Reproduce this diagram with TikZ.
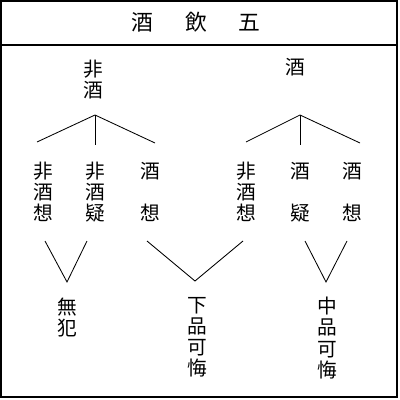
\documentclass[tikz,border=0pt]{standalone}
\usepackage{fontspec}
\newfontfamily\cjk{Noto Sans CJK JP}
\usetikzlibrary{positioning}

\begin{document}
\begin{tikzpicture}[x=0.025cm,y=-0.025cm,
  every node/.style={font=\cjk\fontsize{14}{15}\selectfont},
  col/.style={align=center,inner sep=0pt,anchor=north},
  frame/.style={line width=0.8pt},
  ln/.style={line width=0.6pt}]
\useasboundingbox (0,0) rectangle (400,400);
\draw[frame] (1,1) rectangle (397,397);
\draw[frame] (1,45) -- (397,45);
\node[font=\cjk\fontsize{15.5}{18}\selectfont] (title) at (196,22) {酒\hspace{1.45em}飲\hspace{1.45em}五};
% two roots
\node[col] (rootA) at (93,60) {非\\酒};
\node[col] (rootB) at (295,58) {酒};
\coordinate (apA) at (95,115);
\coordinate (a1) at (37,142);
\coordinate (a2) at (95,145);
\coordinate (a3) at (155,143);
\coordinate (apB) at (300,115);
\coordinate (b1) at (246,142);
\coordinate (b2) at (300,145);
\coordinate (b3) at (360,143);
\draw[ln] (a1) -- (apA) -- (a3); \draw[ln] (apA) -- (a2);
\draw[ln] (b1) -- (apB) -- (b3); \draw[ln] (apB) -- (b2);
% six branches
\node[col] (nA1) at (43,162) {非\\酒\\想};
\node[col] (nA2) at (95,162) {非\\酒\\疑};
\node[col] (nA3) at (150,162) {酒\\[15pt]想};
\node[col] (nB1) at (246,162) {非\\酒\\想};
\node[col] (nB2) at (300,162) {酒\\[15pt]疑};
\node[col] (nB3) at (352,162) {酒\\[15pt]想};
% three outcomes
\coordinate (v1l) at (45,241); \coordinate (v1b) at (67,282); \coordinate (v1r) at (87,241);
\coordinate (v2l) at (147,241); \coordinate (v2b) at (195,281); \coordinate (v2r) at (243,241);
\coordinate (v3l) at (305,241); \coordinate (v3b) at (326,282); \coordinate (v3r) at (347,241);
\draw[ln] (v1l) -- (v1b) -- (v1r);
\draw[ln] (v2l) -- (v2b) -- (v2r);
\draw[ln] (v3l) -- (v3b) -- (v3r);
\node[col] (wufan) at (67,298) {無\\犯};
\node[col] (xia) at (197,297) {下\\品\\可\\悔};
\node[col] (zhong) at (327,297) {中\\品\\可\\悔};
\end{tikzpicture}
\end{document}
